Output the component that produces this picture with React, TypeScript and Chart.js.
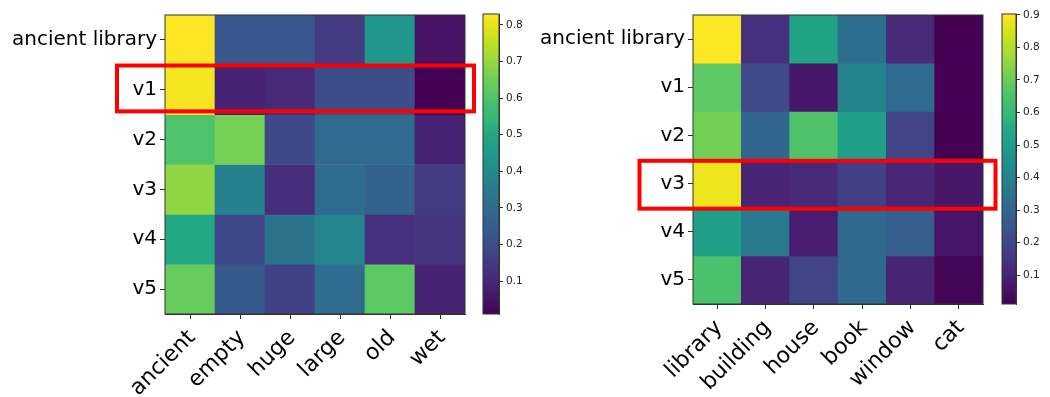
import React, { useEffect, useRef } from "react";
import { Chart, registerables } from "chart.js";

Chart.register(...registerables);

const FONT = "DejaVu Sans";

const ROWS = ["ancient library", "v1", "v2", "v3", "v4", "v5"];

const LEFT_COLS = ["ancient", "empty", "huge", "large", "old", "wet"];
const LEFT_VALUES = [
  [0.83, 0.23, 0.23, 0.15, 0.44, 0.05],
  [0.82, 0.09, 0.11, 0.2, 0.2, 0.01],
  [0.6, 0.66, 0.19, 0.29, 0.29, 0.09],
  [0.69, 0.37, 0.12, 0.3, 0.27, 0.15],
  [0.5, 0.19, 0.32, 0.38, 0.125, 0.14],
  [0.64, 0.24, 0.17, 0.3, 0.62, 0.09],
];
const LEFT_RANGE = [0.01, 0.83];
const LEFT_TICKS = [0.1, 0.2, 0.3, 0.4, 0.5, 0.6, 0.7, 0.8];
const LEFT_HIGHLIGHT_ROW = 1;

const RIGHT_COLS = ["library", "building", "house", "book", "window", "cat"];
const RIGHT_VALUES = [
  [0.9, 0.135, 0.53, 0.33, 0.12, 0.011],
  [0.68, 0.21, 0.07, 0.41, 0.32, 0.012],
  [0.715, 0.305, 0.65, 0.51, 0.19, 0.012],
  [0.88, 0.1, 0.12, 0.18, 0.11, 0.065],
  [0.51, 0.375, 0.08, 0.31, 0.28, 0.06],
  [0.645, 0.1, 0.19, 0.31, 0.1, 0.02],
];
const RIGHT_RANGE = [0.011, 0.903];
const RIGHT_TICKS = [0.1, 0.2, 0.3, 0.4, 0.5, 0.6, 0.7, 0.8, 0.9];
const RIGHT_HIGHLIGHT_ROW = 3;

// viridis colormap stops
const VIRIDIS = [
  "#440154", "#471365", "#482475", "#46337f", "#414487", "#3b528b", "#355f8d",
  "#2f6c8e", "#2a788e", "#25848e", "#21918c", "#1f9e89", "#22a884", "#35b779",
  "#44bf70", "#5ec962", "#7ad151", "#9fda3a", "#bddf26", "#dfe318", "#fde725",
];

function hexToRgb(h: string) {
  const n = parseInt(h.slice(1), 16);
  return [(n >> 16) & 255, (n >> 8) & 255, n & 255];
}
const VIRIDIS_RGB = VIRIDIS.map(hexToRgb);

function viridis(t: number) {
  const c = Math.max(0, Math.min(1, t)) * (VIRIDIS_RGB.length - 1);
  const i = Math.min(Math.floor(c), VIRIDIS_RGB.length - 2);
  const f = c - i;
  const a = VIRIDIS_RGB[i];
  const b = VIRIDIS_RGB[i + 1];
  const r = a.map((v, k) => Math.round(v + (b[k] - v) * f));
  return `rgb(${r[0]},${r[1]},${r[2]})`;
}

type PanelProps = {
  left: number;
  cols: string[];
  values: number[][];
  range: number[];
  ticks: number[];
  highlightRow: number;
  hmWidth: number;
  yAxisWidth: number;
  padRight: number;
  xAxisHeight: number;
  rectLeft: number;
  rectRight: number;
  rectTop: number;
  rectBottom: number;
  cbLeft: number;
  cbWidth: number;
  cbPadLeft: number;
  cbAxisWidth: number;
};

function Panel(p: PanelProps) {
  const hmRef = useRef<HTMLCanvasElement | null>(null);
  const cbRef = useRef<HTMLCanvasElement | null>(null);

  useEffect(() => {
    const [vmin, vmax] = p.range;
    const norm = (v: number) => (v - vmin) / (vmax - vmin);

    const framePlugin = {
      id: "frame" + p.left,
      afterDraw(chart: any) {
        const { ctx, chartArea: a } = chart;
        ctx.save();
        ctx.strokeStyle = "#333";
        ctx.lineWidth = 1;
        ctx.strokeRect(a.left, a.top, a.right - a.left, a.bottom - a.top);
        const ys = chart.scales.y;
        const top = ys.getPixelForValue(p.highlightRow - 0.5) + p.rectTop;
        const bottom = ys.getPixelForValue(p.highlightRow + 0.5) + p.rectBottom;
        ctx.strokeStyle = "#ff0000";
        ctx.lineWidth = 4;
        ctx.strokeRect(
          a.left + p.rectLeft,
          top,
          a.right + p.rectRight - (a.left + p.rectLeft),
          bottom - top
        );
        ctx.restore();
      },
    };

    const hm = new Chart(hmRef.current!, {
      type: "bar",
      data: {
        labels: p.cols,
        datasets: ROWS.map((_, r) => ({
          data: p.cols.map(() => [r - 0.5, r + 0.5]),
          backgroundColor: p.values[r].map((v) => viridis(norm(v))),
          borderWidth: 0,
          barPercentage: 1,
          categoryPercentage: 1,
          grouped: false,
        })) as any,
      },
      options: {
        animation: false,
        responsive: false,
        maintainAspectRatio: false,
        layout: { padding: { top: 14, right: p.padRight, left: 0, bottom: 0 } },
        plugins: { legend: { display: false }, tooltip: { enabled: false } },
        scales: {
          x: {
            type: "category",
            grid: { offset: false, drawOnChartArea: false, tickLength: 5, color: "#333" },
            border: { display: true, color: "#333" },
            ticks: {
              autoSkip: false,
              maxRotation: 45,
              minRotation: 45,
              padding: 6,
              labelOffset: 2,
              color: "#000",
              font: { family: FONT, size: 22 },
            },
            afterFit: (s: any) => {
              s.height = p.xAxisHeight;
            },
          },
          y: {
            type: "linear",
            min: -0.5,
            max: 5.5,
            reverse: true,
            grid: { drawOnChartArea: false, tickLength: 5, color: "#333" },
            border: { display: true, color: "#333" },
            afterBuildTicks: (s: any) => {
              s.ticks = ROWS.map((_, i) => ({ value: i }));
            },
            ticks: {
              color: "#000",
              padding: 3,
              font: { family: FONT, size: 20 },
              callback: (v: any) => ROWS[Math.round(Number(v))] ?? "",
            },
            afterFit: (s: any) => {
              s.width = p.yAxisWidth;
            },
          },
        },
      } as any,
      plugins: [framePlugin],
    });

    const cbFrame = {
      id: "cbframe" + p.left,
      afterDraw(chart: any) {
        const { ctx, chartArea: a } = chart;
        ctx.save();
        ctx.strokeStyle = "#333";
        ctx.lineWidth = 1;
        ctx.strokeRect(a.left, a.top, a.right - a.left, a.bottom - a.top);
        ctx.restore();
      },
    };

    const cb = new Chart(cbRef.current!, {
      type: "bar",
      data: {
        labels: ["cb"],
        datasets: [
          {
            data: [[vmin, vmax]],
            borderWidth: 0,
            barPercentage: 1,
            categoryPercentage: 1,
            backgroundColor: (ctx: any) => {
              const ch = ctx.chart;
              if (!ch.chartArea) return "#888";
              const y = ch.scales.y;
              const g = ch.ctx.createLinearGradient(
                0,
                y.getPixelForValue(vmin),
                0,
                y.getPixelForValue(vmax)
              );
              VIRIDIS.forEach((c, i) => g.addColorStop(i / (VIRIDIS.length - 1), c));
              return g;
            },
          },
        ] as any,
      },
      options: {
        animation: false,
        responsive: false,
        maintainAspectRatio: false,
        layout: {
          padding: { top: 14, left: p.cbPadLeft, right: 0, bottom: 397 - 14 - p.hmWidth },
        },
        plugins: { legend: { display: false }, tooltip: { enabled: false } },
        scales: {
          x: { display: false },
          y: {
            type: "linear",
            position: "right",
            min: vmin,
            max: vmax,
            grid: { drawOnChartArea: false, tickLength: 4, color: "#333" },
            border: { display: true, color: "#333" },
            afterBuildTicks: (s: any) => {
              s.ticks = p.ticks.map((v) => ({ value: v }));
            },
            ticks: {
              color: "#222",
              padding: 3,
              font: { family: FONT, size: 10.5 },
              callback: (v: any) => Number(v).toFixed(1),
            },
            afterFit: (s: any) => {
              s.width = p.cbAxisWidth;
            },
          },
        },
      } as any,
      plugins: [cbFrame],
    });

    return () => {
      hm.destroy();
      cb.destroy();
    };
  }, []);

  const hmCanvasWidth = p.yAxisWidth + p.hmWidth + p.padRight;
  return (
    <>
      <canvas
        ref={hmRef}
        width={hmCanvasWidth}
        height={397}
        style={{ position: "absolute", left: p.left, top: 0, width: hmCanvasWidth, height: 397 }}
      />
      <canvas
        ref={cbRef}
        width={p.cbWidth}
        height={397}
        style={{ position: "absolute", left: p.cbLeft, top: 0, width: p.cbWidth, height: 397 }}
      />
    </>
  );
}

export default function App() {
  return (
    <div
      style={{
        position: "absolute",
        left: 0,
        top: 0,
        width: 1050,
        height: 397,
        background: "#fff",
        overflow: "hidden",
      }}
    >
      <Panel
        left={0}
        cols={LEFT_COLS}
        values={LEFT_VALUES}
        range={LEFT_RANGE}
        ticks={LEFT_TICKS}
        highlightRow={LEFT_HIGHLIGHT_ROW}
        hmWidth={300}
        yAxisWidth={165}
        padRight={15}
        xAxisHeight={83}
        rectLeft={-48}
        rectRight={9}
        rectTop={0.7}
        rectBottom={-3.3}
        cbLeft={470}
        cbWidth={55}
        cbPadLeft={13}
        cbAxisWidth={26}
      />
      <Panel
        left={525}
        cols={RIGHT_COLS}
        values={RIGHT_VALUES}
        range={RIGHT_RANGE}
        ticks={RIGHT_TICKS}
        highlightRow={RIGHT_HIGHLIGHT_ROW}
        hmWidth={290}
        yAxisWidth={168}
        padRight={22}
        xAxisHeight={93}
        rectLeft={-53.5}
        rectRight={12.5}
        rectTop={1.3}
        rectBottom={1}
        cbLeft={990}
        cbWidth={60}
        cbPadLeft={12}
        cbAxisWidth={34}
      />
    </div>
  );
}
